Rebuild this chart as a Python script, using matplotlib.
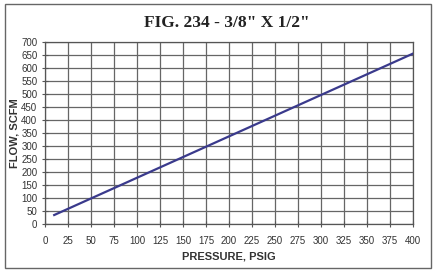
import numpy as np
import matplotlib
matplotlib.use("Agg")
import matplotlib.pyplot as plt

pressure = [10, 400]
flow = [35, 655]

xTicks = list(range(0, 401, 25))
yTicks = list(range(0, 701, 50))

plt.rcParams["font.family"] = ["Liberation Sans", "DejaVu Sans"]

fig = plt.figure(figsize=(4.37, 2.72), dpi=100)
ax = fig.add_axes([0.103, 0.176, 0.842, 0.670])

ax.plot(pressure, flow, color="#3a3a8c", linewidth=1.6, zorder=3)

ax.set_xlim(0, 400)
ax.set_ylim(0, 700)
ax.set_xticks(xTicks)
ax.set_yticks(yTicks)
ax.grid(True, color="#666666", linewidth=0.9)
ax.tick_params(direction="inout", length=5, width=0.8, color="#555555",
               labelsize=7, labelcolor="#333333", pad=6)
ax.tick_params(axis="y", pad=3)
for s in ax.spines.values():
    s.set_color("#555555")
    s.set_linewidth(0.9)

ax.set_xlabel("PRESSURE, PSIG", fontsize=8, fontweight="bold", color="#333333", labelpad=4)
ax.set_ylabel("FLOW, SCFM", fontsize=8, fontweight="bold", color="#333333", labelpad=1)
fig.text(0.52, 0.915, 'FIG. 234 - 3/8" X 1/2"', ha="center", va="center",
         fontsize=12.5, fontweight="bold", family="Liberation Serif", color="#222222")

fig.patches.append(plt.Rectangle((0.012, 0.015), 0.975, 0.97, transform=fig.transFigure,
                                 fill=False, edgecolor="#666666", linewidth=1))

fig.savefig("out.png", dpi=100)
